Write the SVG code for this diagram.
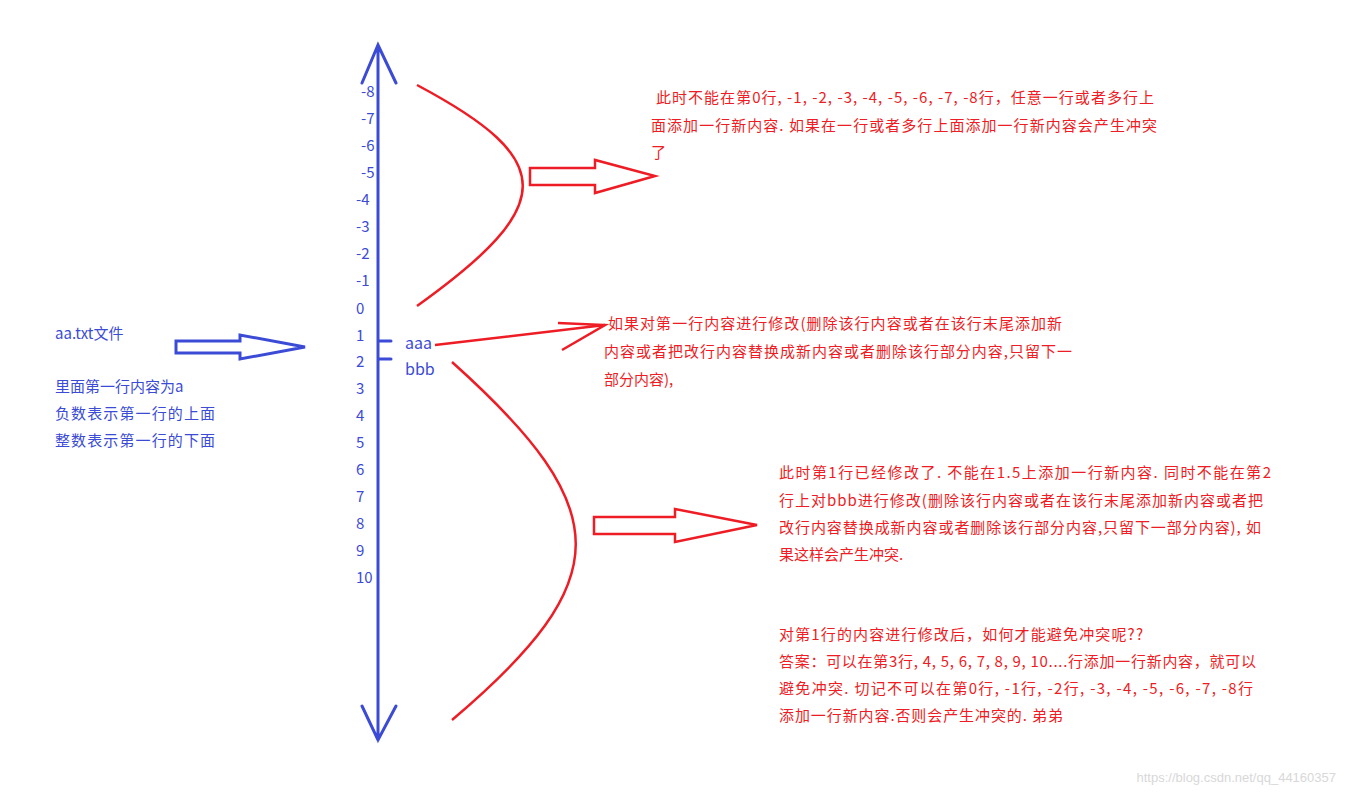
<svg xmlns="http://www.w3.org/2000/svg" width="1345" height="795" viewBox="0 0 1345 795">
<style>
.b{fill:#3b4bd6;font-family:"Microsoft YaHei","Noto Sans CJK SC",sans-serif;font-size:15px}
.r{fill:#ee1c24;font-family:"Noto Sans CJK SC",sans-serif;font-size:15px}
.bl{stroke:#3b4bd6;fill:none;stroke-width:3;stroke-linecap:round}
.rl{stroke:#ee1c24;fill:none;stroke-width:2.5}
.ra{stroke:#ee1c24;fill:#fff;stroke-width:2.5}
</style>
<rect width="1345" height="795" fill="#fff"/>
<g id="axis">
<path class="bl" d="M378 45V740M362 83L378 45L396 83M362 706L378 740L396 706"/>
<path class="bl" stroke-width="5" d="M379 341H391M379 359H391"/>
</g>
<g id="numbers" class="b">
<text x="361" y="97">-8</text><text x="361" y="124">-7</text><text x="361" y="151">-6</text><text x="361" y="178">-5</text>
<text x="356" y="205">-4</text><text x="356" y="232">-3</text><text x="356" y="259">-2</text><text x="356" y="286">-1</text>
<text x="356" y="314">0</text><text x="356" y="341">1</text><text x="356" y="367">2</text><text x="356" y="394">3</text>
<text x="356" y="421">4</text><text x="356" y="448">5</text><text x="356" y="475">6</text><text x="356" y="502">7</text>
<text x="356" y="529">8</text><text x="356" y="556">9</text><text x="356" y="583">10</text>
<text x="405" y="349" font-size="16">aaa</text><text x="405" y="375" font-size="16">bbb</text>
</g>
<g id="left" class="b">
<text x="55" y="339">aa.txt文件</text>
<text x="55" y="392">里面第一行内容为a</text>
<text x="55" y="419" textLength="160">负数表示第一行的上面</text>
<text x="55" y="446" textLength="160">整数表示第一行的下面</text>
</g>
<g id="connectors">
<path class="bl" stroke-width="2.5" d="M176 341H240V335L305 347L240 359V353H176Z"/>
<path class="rl" d="M417 85C558 160 558 205 417 306"/>
<path class="rl" d="M452 362C617 510 617 580 452 720"/>
<path class="ra" d="M530 168H595V160L655 176L595 193V185H530Z"/>
<path class="ra" d="M594 517H675V509L757 525L675 542V534H594Z"/>
<path class="rl" stroke-width="1" d="M435 345L605 325M558 323L605 325L562 350"/>
</g>
<g id="texts" class="r" xml:space="preserve">
<text x="656" y="103" textLength="498"> 此时不能在第0行, -1, -2, -3, -4, -5, -6, -7, -8行，任意一行或者多行上</text>
<text x="651" y="131" textLength="506">面添加一行新内容. 如果在一行或者多行上面添加一行新内容会产生冲突</text>
<text x="651" y="158">了</text>
<text x="608" y="329" textLength="454">如果对第一行内容进行修改(删除该行内容或者在该行末尾添加新</text>
<text x="604" y="357" textLength="468">内容或者把改行内容替换成新内容或者删除该行部分内容,只留下一</text>
<text x="604" y="385">部分内容),</text>
<text x="779" y="478" textLength="492">此时第1行已经修改了.  不能在1.5上添加一行新内容. 同时不能在第2</text>
<text x="779" y="506" textLength="484">行上对bbb进行修改(删除该行内容或者在该行末尾添加新内容或者把</text>
<text x="779" y="533" textLength="482">改行内容替换成新内容或者删除该行部分内容,只留下一部分内容), 如</text>
<text x="779" y="560">果这样会产生冲突.</text>
<text x="779" y="640" textLength="364">对第1行的内容进行修改后，如何才能避免冲突呢??</text>
<text x="779" y="667" textLength="477">答案：可以在第3行, 4, 5, 6, 7, 8, 9, 10....行添加一行新内容，就可以</text>
<text x="779" y="694" textLength="474">避免冲突.     切记不可以在第0行, -1行, -2行, -3, -4, -5, -6, -7, -8行</text>
<text x="779" y="721" textLength="284">添加一行新内容.否则会产生冲突的. 弟弟</text>
</g>
<text x="1336" y="782" text-anchor="end" font-family="Liberation Sans,sans-serif" font-size="13" fill="#d8d8d8">https://blog.csdn.net/qq_44160357</text>
</svg>
